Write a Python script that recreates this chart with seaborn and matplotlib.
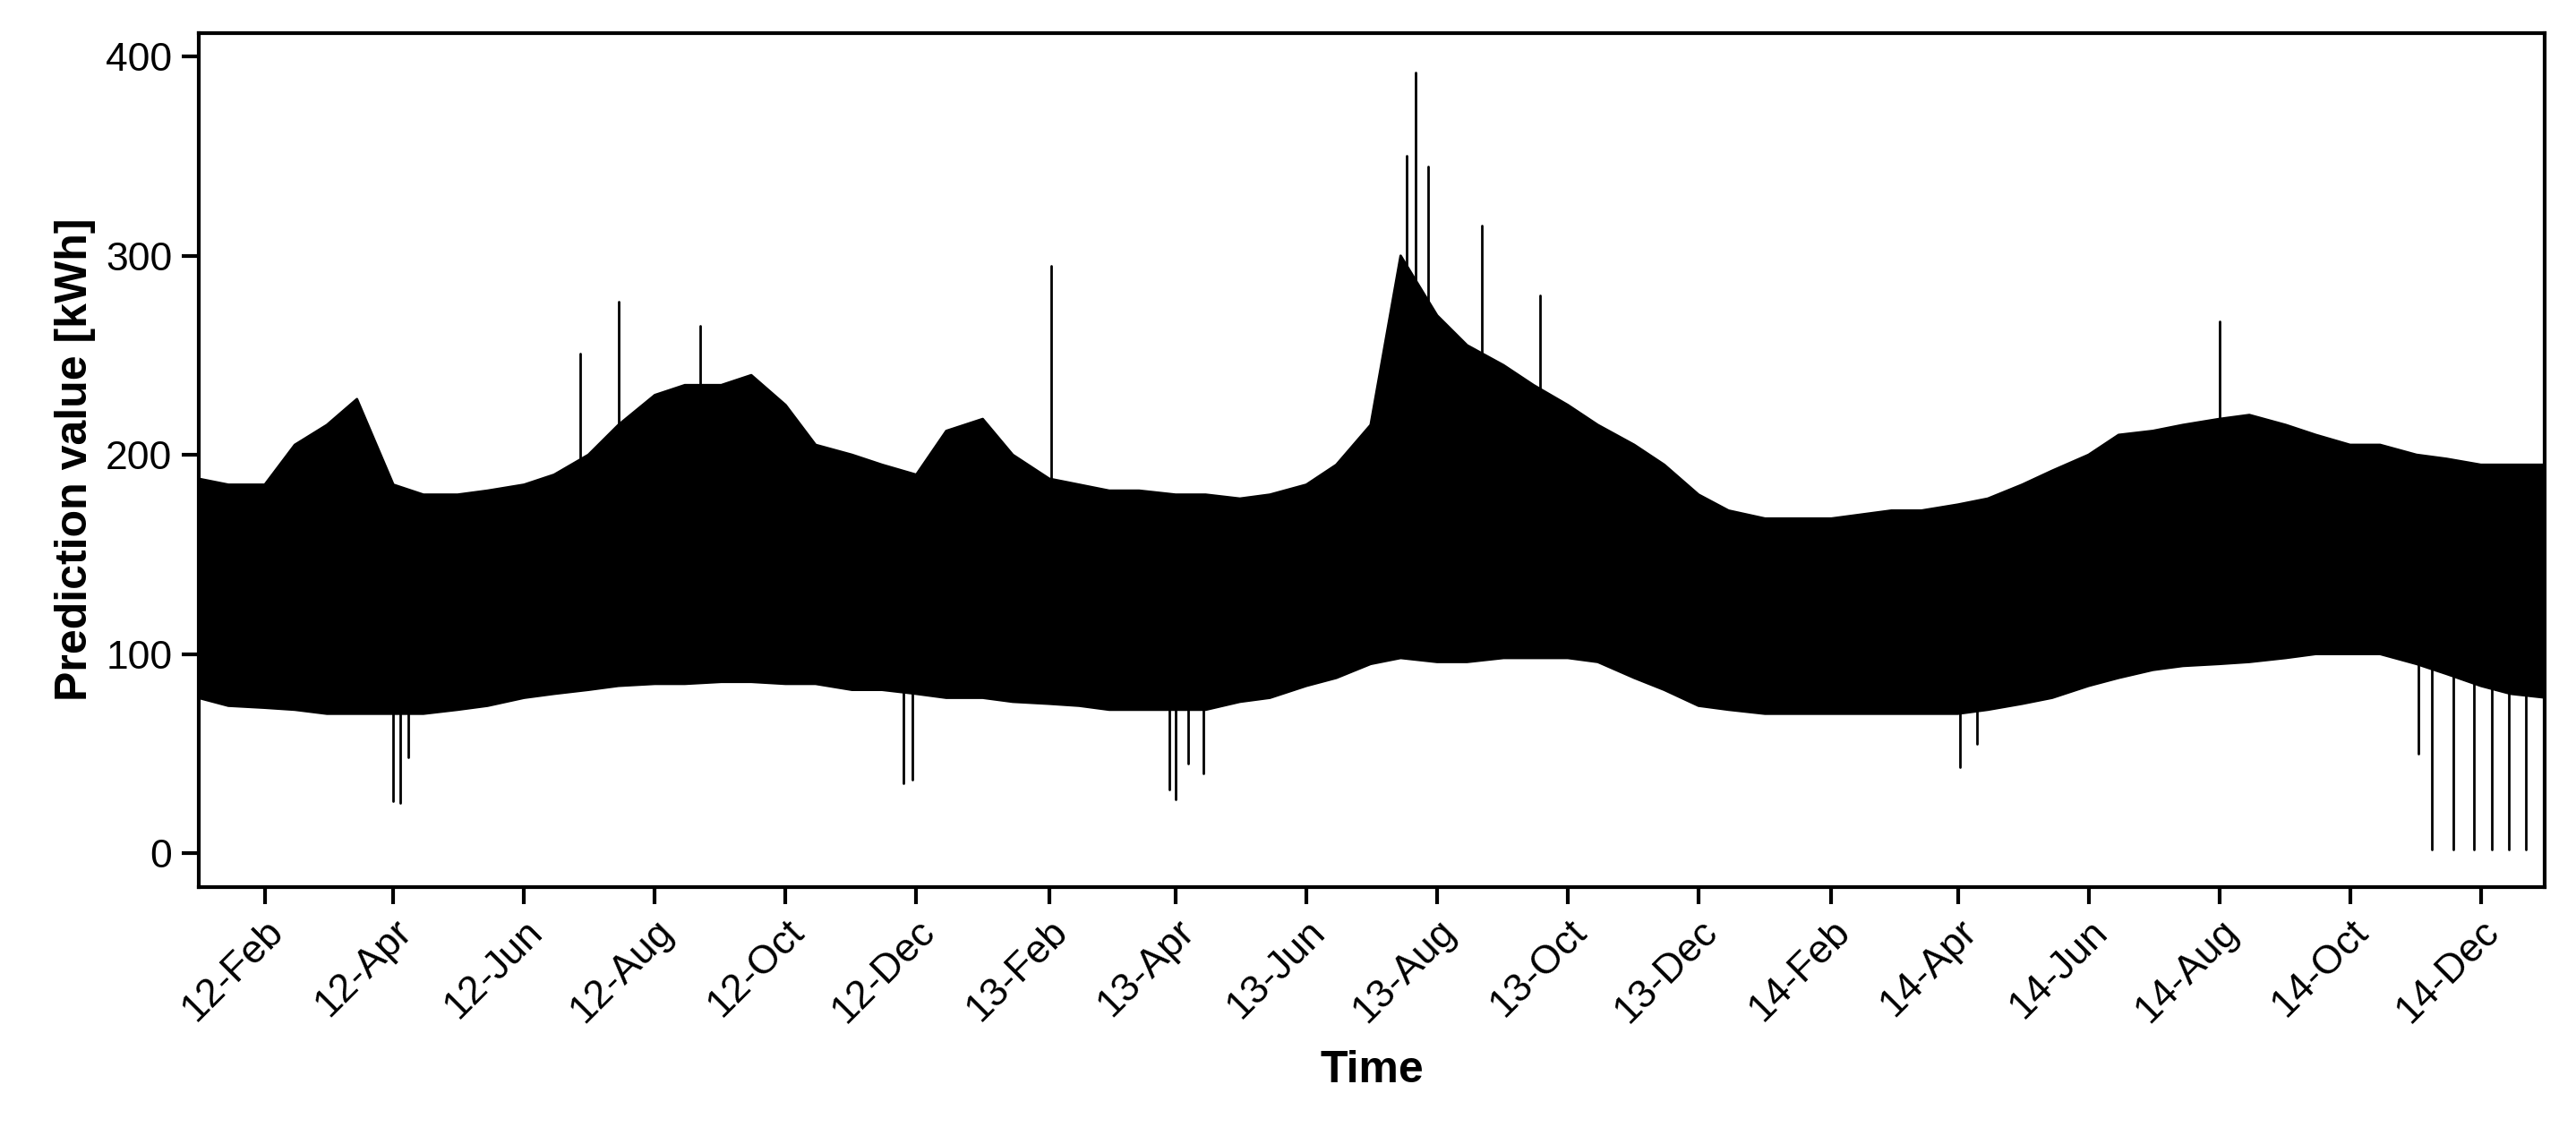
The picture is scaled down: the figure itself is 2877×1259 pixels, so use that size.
import pandas as pd
import matplotlib
matplotlib.use("Agg")
import matplotlib.pyplot as plt
import matplotlib.dates as mdates
import seaborn as sns

# half-monthly envelope of the prediction series (kWh)
dates = pd.date_range("2012-01-01", periods=73, freq="SMS")
lo = [78, 74, 73, 72, 70, 70, 70, 70, 72, 74, 78, 80,
      82, 84, 85, 85, 86, 86, 85, 85, 82, 82, 80, 78,
      78, 76, 75, 74, 72, 72, 72, 72, 76, 78, 84, 88,
      95, 98, 96, 96, 98, 98, 98, 96, 88, 82, 74, 72,
      70, 70, 70, 70, 70, 70, 70, 72, 75, 78, 84, 88,
      92, 94, 95, 96, 98, 100, 100, 100, 95, 90, 84, 80, 78]
hi = [188, 185, 185, 205, 215, 228, 185, 180, 180, 182, 185, 190,
      200, 215, 230, 235, 235, 240, 225, 205, 200, 195, 190, 212,
      218, 200, 188, 185, 182, 182, 180, 180, 178, 180, 185, 195,
      215, 300, 270, 255, 245, 235, 225, 215, 205, 195, 180, 172,
      168, 168, 168, 170, 172, 172, 175, 178, 185, 192, 200, 210,
      212, 215, 218, 220, 215, 210, 205, 205, 200, 198, 195, 195, 195]

# isolated spikes (date, value)
spike_dates = pd.to_datetime([
    "2012-04-01", "2012-04-04", "2012-04-08", "2012-06-27", "2012-07-15",
    "2012-08-22", "2012-11-25", "2012-11-29", "2013-02-02", "2013-03-29",
    "2013-04-01", "2013-04-07", "2013-04-14", "2013-07-18", "2013-07-22",
    "2013-07-28", "2013-08-22", "2013-09-18", "2014-04-02", "2014-04-10",
    "2014-08-01", "2014-11-08", "2014-11-18", "2014-11-28", "2014-12-06",
    "2014-12-14", "2014-12-22", "2014-11-02"])
spike_vals = [26, 25, 48, 251, 277, 265, 35, 37, 295, 32, 27, 45, 40, 350,
              392, 345, 315, 280, 43, 55, 267, 2, 2, 2, 2, 2, 2, 50]

sns.set_style("ticks")
plt.rcParams["font.family"] = ["Liberation Sans", "DejaVu Sans"]
plt.rcParams["text.color"] = "black"
plt.rcParams["axes.labelcolor"] = "black"
plt.rcParams["xtick.color"] = "black"
plt.rcParams["ytick.color"] = "black"
plt.rcParams["axes.edgecolor"] = "black"

fig, ax = plt.subplots(figsize=(14.385, 6.295), dpi=200)
fig.subplots_adjust(left=0.077, right=0.988, top=0.971, bottom=0.213)

ax.fill_between(dates, lo, hi, color="black", lw=0)
sns.lineplot(x=dates, y=hi, color="black", lw=1.0, ax=ax)
sns.lineplot(x=dates, y=lo, color="black", lw=1.0, ax=ax)
for d, v in zip(spike_dates, spike_vals):
    bottom, top = (v, 120) if v < 100 else (150, v)
    ax.plot([d, d], [bottom, top], color="black", lw=1)

ax.set_xlim(pd.Timestamp("2012-01-01"), pd.Timestamp("2014-12-31"))
ax.set_ylim(-17, 412)
ax.set_yticks([0, 100, 200, 300, 400])
ax.xaxis.set_major_locator(mdates.MonthLocator(bymonth=[2, 4, 6, 8, 10, 12]))
ax.xaxis.set_major_formatter(mdates.DateFormatter("%y-%b"))
ax.tick_params(axis="both", labelsize=16, length=7, width=1.5)
plt.setp(ax.get_xticklabels(), rotation=45, ha="right", rotation_mode="anchor")
for s in ax.spines.values():
    s.set_linewidth(1.5)
ax.set_xlabel("Time", fontsize=18, fontweight="bold", labelpad=8)
ax.set_ylabel("Prediction value [kWh]", fontsize=18, fontweight="bold")

fig.savefig("out.png", dpi=200)
